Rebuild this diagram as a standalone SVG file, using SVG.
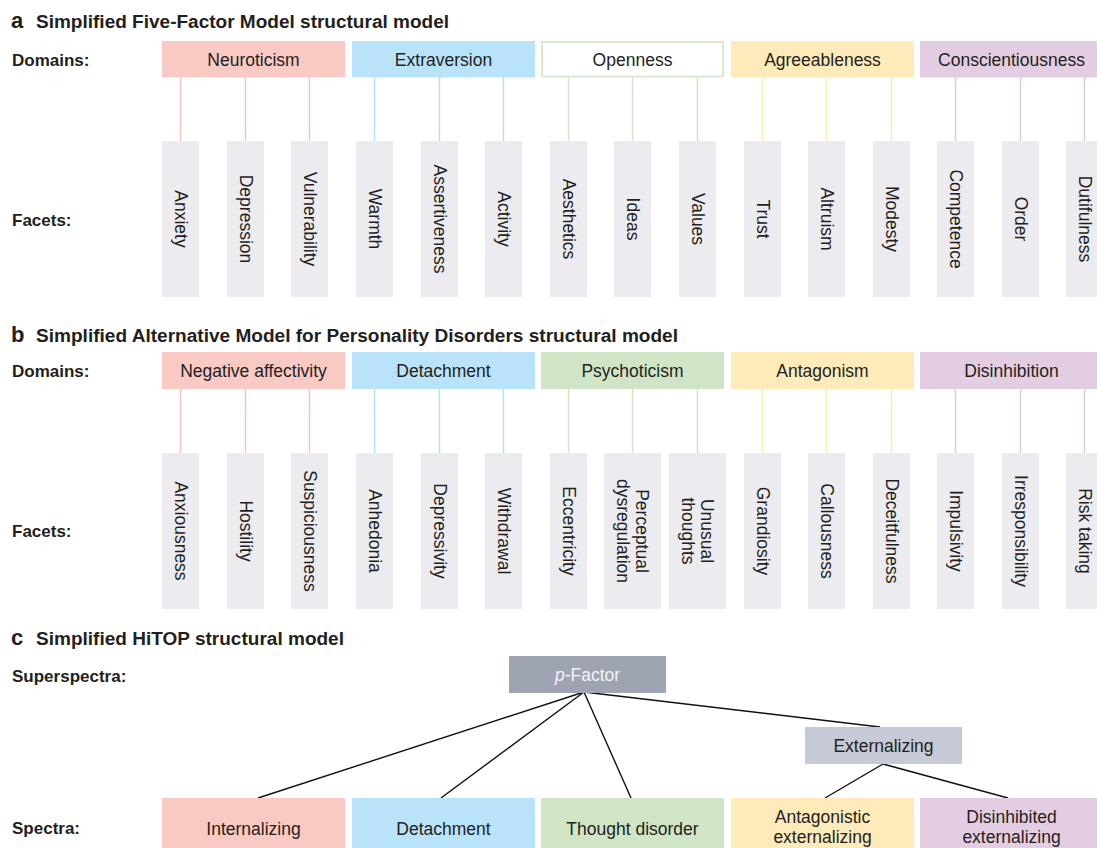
<svg xmlns="http://www.w3.org/2000/svg" width="1097" height="848" viewBox="0 0 1097 848">
<style>
text{font-family:"Liberation Sans",Arial,sans-serif;fill:#231f20}
.ttl{font-size:18px;font-weight:bold}
.let{font-size:22px;font-weight:bold}
.lbl{font-size:17px;font-weight:bold}
.dom{font-size:17.5px;text-anchor:middle}
.fac{font-size:17.5px;text-anchor:middle}
.fbox{fill:#ebebf0}
.neu{fill:#f9c9c4}.ext{fill:#b9e3f8}.opn{fill:#ffffff;stroke:#d8ebcf;stroke-width:2}
.psy{fill:#cfe5c5}.agr{fill:#feebb9}.con{fill:#e3cde3}
.lp{stroke:#f6c4c0}.lb{stroke:#b7e0f6}.lg{stroke:#d0e7c6}.ly{stroke:#fcebb6}.lv{stroke:#e2cce2}
.conn line{stroke-width:1.5}
.tree line{stroke:#111;stroke-width:1.4}
</style>

<!-- Section a -->
<g id="title-a">
<text class="let" x="11" y="28">a</text>
<text class="ttl" x="36" y="28" textLength="413" lengthAdjust="spacingAndGlyphs">Simplified Five-Factor Model structural model</text>
</g>
<text class="lbl" x="12" y="66">Domains:</text>
<text class="lbl" x="12" y="226">Facets:</text>

<g id="a-connectors" class="conn">
<line class="lp" x1="180.5" y1="77" x2="180.5" y2="141"/>
<line class="lp" x1="245.5" y1="77" x2="245.5" y2="141"/>
<line class="lp" x1="309.5" y1="77" x2="309.5" y2="141"/>
<line class="lb" x1="374.5" y1="77" x2="374.5" y2="141"/>
<line class="lb" x1="439.5" y1="77" x2="439.5" y2="141"/>
<line class="lb" x1="503.5" y1="77" x2="503.5" y2="141"/>
<line class="lg" x1="568.5" y1="77" x2="568.5" y2="141"/>
<line class="lg" x1="632.5" y1="77" x2="632.5" y2="141"/>
<line class="lg" x1="697.5" y1="77" x2="697.5" y2="141"/>
<line class="ly" x1="762.5" y1="77" x2="762.5" y2="141"/>
<line class="ly" x1="826.5" y1="77" x2="826.5" y2="141"/>
<line class="ly" x1="891.5" y1="77" x2="891.5" y2="141"/>
<line class="lv" x1="955.5" y1="77" x2="955.5" y2="141"/>
<line class="lv" x1="1020.5" y1="77" x2="1020.5" y2="141"/>
<line class="lv" x1="1084.5" y1="77" x2="1084.5" y2="141"/>
</g>

<g id="a-neuroticism"><rect class="neu" x="162" y="41" width="183" height="36.5"/><text class="dom" x="253.5" y="66">Neuroticism</text></g>
<g id="a-extraversion"><rect class="ext" x="352" y="41" width="183" height="36.5"/><text class="dom" x="443.5" y="66">Extraversion</text></g>
<g id="a-openness"><rect class="opn" x="542" y="42" width="181" height="34.5"/><text class="dom" x="632.5" y="66">Openness</text></g>
<g id="a-agreeableness"><rect class="agr" x="731" y="41" width="183" height="36.5"/><text class="dom" x="822.5" y="66">Agreeableness</text></g>
<g id="a-conscientiousness"><rect class="con" x="920" y="41" width="183" height="36.5"/><text class="dom" x="1011.5" y="66">Conscientiousness</text></g>

<g id="a-f1"><rect class="fbox" x="162" y="141" width="37" height="156"/><text class="fac" transform="translate(180.5,219) rotate(90)" y="6">Anxiety</text></g>
<g id="a-f2"><rect class="fbox" x="227" y="141" width="37" height="156"/><text class="fac" transform="translate(245.5,219) rotate(90)" y="6">Depression</text></g>
<g id="a-f3"><rect class="fbox" x="291" y="141" width="37" height="156"/><text class="fac" transform="translate(309.5,219) rotate(90)" y="6">Vulnerability</text></g>
<g id="a-f4"><rect class="fbox" x="356" y="141" width="37" height="156"/><text class="fac" transform="translate(374.5,219) rotate(90)" y="6">Warmth</text></g>
<g id="a-f5"><rect class="fbox" x="421" y="141" width="37" height="156"/><text class="fac" transform="translate(439.5,219) rotate(90)" y="6">Assertiveness</text></g>
<g id="a-f6"><rect class="fbox" x="485" y="141" width="37" height="156"/><text class="fac" transform="translate(503.5,219) rotate(90)" y="6">Activity</text></g>
<g id="a-f7"><rect class="fbox" x="550" y="141" width="37" height="156"/><text class="fac" transform="translate(568.5,219) rotate(90)" y="6">Aesthetics</text></g>
<g id="a-f8"><rect class="fbox" x="614" y="141" width="37" height="156"/><text class="fac" transform="translate(632.5,219) rotate(90)" y="6">Ideas</text></g>
<g id="a-f9"><rect class="fbox" x="679" y="141" width="37" height="156"/><text class="fac" transform="translate(697.5,219) rotate(90)" y="6">Values</text></g>
<g id="a-f10"><rect class="fbox" x="744" y="141" width="37" height="156"/><text class="fac" transform="translate(762.5,219) rotate(90)" y="6">Trust</text></g>
<g id="a-f11"><rect class="fbox" x="808" y="141" width="37" height="156"/><text class="fac" transform="translate(826.5,219) rotate(90)" y="6">Altruism</text></g>
<g id="a-f12"><rect class="fbox" x="873" y="141" width="37" height="156"/><text class="fac" transform="translate(891.5,219) rotate(90)" y="6">Modesty</text></g>
<g id="a-f13"><rect class="fbox" x="937" y="141" width="37" height="156"/><text class="fac" transform="translate(955.5,219) rotate(90)" y="6">Competence</text></g>
<g id="a-f14"><rect class="fbox" x="1002" y="141" width="37" height="156"/><text class="fac" transform="translate(1020.5,219) rotate(90)" y="6">Order</text></g>
<g id="a-f15"><rect class="fbox" x="1066" y="141" width="37" height="156"/><text class="fac" transform="translate(1084.5,219) rotate(90)" y="6">Dutifulness</text></g>

<!-- Section b -->
<g id="title-b">
<text class="let" x="11" y="342">b</text>
<text class="ttl" x="36" y="342" textLength="642" lengthAdjust="spacingAndGlyphs">Simplified Alternative Model for Personality Disorders structural model</text>
</g>
<text class="lbl" x="12" y="377">Domains:</text>
<text class="lbl" x="12" y="537">Facets:</text>

<g id="b-connectors" class="conn">
<line class="lp" x1="180.5" y1="389" x2="180.5" y2="453"/>
<line class="lp" x1="245.5" y1="389" x2="245.5" y2="453"/>
<line class="lp" x1="309.5" y1="389" x2="309.5" y2="453"/>
<line class="lb" x1="374.5" y1="389" x2="374.5" y2="453"/>
<line class="lb" x1="439.5" y1="389" x2="439.5" y2="453"/>
<line class="lb" x1="503.5" y1="389" x2="503.5" y2="453"/>
<line class="lg" x1="568.5" y1="389" x2="568.5" y2="453"/>
<line class="lg" x1="632.5" y1="389" x2="632.5" y2="453"/>
<line class="lg" x1="697.5" y1="389" x2="697.5" y2="453"/>
<line class="ly" x1="762.5" y1="389" x2="762.5" y2="453"/>
<line class="ly" x1="826.5" y1="389" x2="826.5" y2="453"/>
<line class="ly" x1="891.5" y1="389" x2="891.5" y2="453"/>
<line class="lv" x1="955.5" y1="389" x2="955.5" y2="453"/>
<line class="lv" x1="1020.5" y1="389" x2="1020.5" y2="453"/>
<line class="lv" x1="1084.5" y1="389" x2="1084.5" y2="453"/>
</g>

<g id="b-negative-affectivity"><rect class="neu" x="162" y="352" width="183" height="37"/><text class="dom" x="253.5" y="377">Negative affectivity</text></g>
<g id="b-detachment"><rect class="ext" x="352" y="352" width="183" height="37"/><text class="dom" x="443.5" y="377">Detachment</text></g>
<g id="b-psychoticism"><rect class="psy" x="541" y="352" width="183" height="37"/><text class="dom" x="632.5" y="377">Psychoticism</text></g>
<g id="b-antagonism"><rect class="agr" x="731" y="352" width="183" height="37"/><text class="dom" x="822.5" y="377">Antagonism</text></g>
<g id="b-disinhibition"><rect class="con" x="920" y="352" width="183" height="37"/><text class="dom" x="1011.5" y="377">Disinhibition</text></g>

<g id="b-f1"><rect class="fbox" x="162" y="453" width="37" height="156"/><text class="fac" transform="translate(180.5,531) rotate(90)" y="6">Anxiousness</text></g>
<g id="b-f2"><rect class="fbox" x="227" y="453" width="37" height="156"/><text class="fac" transform="translate(245.5,531) rotate(90)" y="6">Hostility</text></g>
<g id="b-f3"><rect class="fbox" x="291" y="453" width="37" height="156"/><text class="fac" transform="translate(309.5,531) rotate(90)" y="6">Suspiciousness</text></g>
<g id="b-f4"><rect class="fbox" x="356" y="453" width="37" height="156"/><text class="fac" transform="translate(374.5,531) rotate(90)" y="6">Anhedonia</text></g>
<g id="b-f5"><rect class="fbox" x="421" y="453" width="37" height="156"/><text class="fac" transform="translate(439.5,531) rotate(90)" y="6">Depressivity</text></g>
<g id="b-f6"><rect class="fbox" x="485" y="453" width="37" height="156"/><text class="fac" transform="translate(503.5,531) rotate(90)" y="6">Withdrawal</text></g>
<g id="b-f7"><rect class="fbox" x="550" y="453" width="37" height="156"/><text class="fac" transform="translate(568.5,531) rotate(90)" y="6">Eccentricity</text></g>
<g id="b-f8"><rect class="fbox" x="604" y="453" width="57" height="156"/><text class="fac" transform="translate(632.5,531) rotate(90)"><tspan x="0" y="-3.5">Perceptual</tspan><tspan x="0" y="15.5">dysregulation</tspan></text></g>
<g id="b-f9"><rect class="fbox" x="669" y="453" width="57" height="156"/><text class="fac" transform="translate(697.5,531) rotate(90)"><tspan x="0" y="-3.5">Unusual</tspan><tspan x="0" y="15.5">thoughts</tspan></text></g>
<g id="b-f10"><rect class="fbox" x="744" y="453" width="37" height="156"/><text class="fac" transform="translate(762.5,531) rotate(90)" y="6">Grandiosity</text></g>
<g id="b-f11"><rect class="fbox" x="808" y="453" width="37" height="156"/><text class="fac" transform="translate(826.5,531) rotate(90)" y="6">Callousness</text></g>
<g id="b-f12"><rect class="fbox" x="873" y="453" width="37" height="156"/><text class="fac" transform="translate(891.5,531) rotate(90)" y="6">Deceitfulness</text></g>
<g id="b-f13"><rect class="fbox" x="937" y="453" width="37" height="156"/><text class="fac" transform="translate(955.5,531) rotate(90)" y="6">Impulsivity</text></g>
<g id="b-f14"><rect class="fbox" x="1002" y="453" width="37" height="156"/><text class="fac" transform="translate(1020.5,531) rotate(90)" y="6">Irresponsibility</text></g>
<g id="b-f15"><rect class="fbox" x="1066" y="453" width="37" height="156"/><text class="fac" transform="translate(1084.5,531) rotate(90)" y="6">Risk taking</text></g>

<!-- Section c -->
<g id="title-c">
<text class="let" x="11" y="645">c</text>
<text class="ttl" x="36" y="645" textLength="308" lengthAdjust="spacingAndGlyphs">Simplified HiTOP structural model</text>
</g>
<text class="lbl" x="12" y="682">Superspectra:</text>
<text class="lbl" x="12" y="834">Spectra:</text>

<g id="c-connectors" class="tree">
<line x1="584" y1="692" x2="258" y2="798"/>
<line x1="584" y1="692" x2="441" y2="798"/>
<line x1="584" y1="692" x2="631" y2="798"/>
<line x1="584" y1="692" x2="880" y2="727"/>
<line x1="883" y1="764" x2="825" y2="798"/>
<line x1="883" y1="764" x2="1008" y2="798"/>
</g>

<g id="c-pfactor"><rect x="509" y="656" width="157" height="37" fill="#9ea4b1"/><text class="dom" x="587.5" y="681" style="fill:#f4f4f6"><tspan font-style="italic">p</tspan>-Factor</text></g>
<g id="c-externalizing"><rect x="805" y="727" width="157" height="37" fill="#c6c9d6"/><text class="dom" x="883.5" y="752">Externalizing</text></g>

<g id="c-internalizing"><rect class="neu" x="162" y="798" width="183" height="55"/><text class="dom" x="253.5" y="834.5">Internalizing</text></g>
<g id="c-detachment"><rect class="ext" x="352" y="798" width="183" height="55"/><text class="dom" x="443.5" y="834.5">Detachment</text></g>
<g id="c-thought"><rect class="psy" x="541" y="798" width="183" height="55"/><text class="dom" x="632.5" y="834.5">Thought disorder</text></g>
<g id="c-antagonistic"><rect class="agr" x="731" y="798" width="183" height="55"/><text class="dom" x="822.5" y="823"><tspan x="822.5" y="823">Antagonistic</tspan><tspan x="822.5" y="843">externalizing</tspan></text></g>
<g id="c-disinhibited"><rect class="con" x="920" y="798" width="183" height="55"/><text class="dom" x="1011.5" y="823"><tspan x="1011.5" y="823">Disinhibited</tspan><tspan x="1011.5" y="843">externalizing</tspan></text></g>
</svg>
